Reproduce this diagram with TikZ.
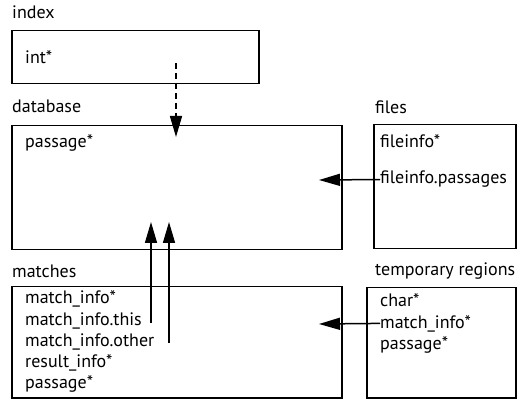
\documentclass[tikz,border=0pt]{standalone}
\usepackage{fontspec}
\setmainfont{PT Sans}
\usetikzlibrary{arrows.meta}

\tikzset{
  box/.style={draw, line width=1.5pt, anchor=north west, inner sep=0pt},
  title/.style={anchor=base west, inner sep=0pt, font=\fontsize{18}{21}\selectfont},
  entry/.style={anchor=base west, inner sep=0pt, font=\fontsize{18}{21}\selectfont},
  ptr/.style={line width=1.5pt, -{Triangle[length=21pt, width=12pt]}}
}

\begin{document}
\begin{tikzpicture}[x=1pt, y=-1pt]
        \useasboundingbox (0,0) rectangle (517,406);
        % --- Draw boxes ---
        \node[title] (indextitle) at (12,19) {index};
        \node[box, minimum width=247pt, minimum height=53pt] (indexbox) at (11,30) {};
        \node[entry] (int) at (25,64) {int*};

        \node[title] (dbtitle) at (12,113) {database};
        \node[box, minimum width=330pt, minimum height=124pt] (dbbox) at (11,125) {};
        \node[entry] (dbpassage) at (25,148) {passage*};

        \node[title] (filestitle) at (375,114) {files};
        \node[box, minimum width=142pt, minimum height=124pt] (filesbox) at (373,124) {};
        \node[entry] (fileinfo) at (380,148) {fileinfo*};
        \node[entry] (fpassages) at (380,184) {fileinfo.passages};

        \node[title] (matchtitle) at (12,277) {matches};
        \node[box, minimum width=330pt, minimum height=111pt] (matchbox) at (11,286) {};
        \node[entry] (minfo) at (25,304) {match\_info*};
        \node[entry] (mthis) at (25,325) {match\_info.this};
        \node[entry] (mother) at (25,346) {match\_info.other};
        \node[entry] (rinfo) at (25,367) {result\_info*};
        \node[entry] (mpassage) at (25,388) {passage*};

        \node[title] (temptitle) at (375,276) {temporary regions};
        \node[box, minimum width=149pt, minimum height=110pt] (tempbox) at (366,287) {};
        \node[entry] (tchar) at (380,306) {char*};
        \node[entry] (tminfo) at (380,328) {match\_info*};
        \node[entry] (tpassage) at (380,349) {passage*};

        % --- Draw pointers ---
        \coordinate (intfrom) at (176,63);
        \coordinate (inttip) at (176,137);
        \draw[ptr, dashed, dash pattern=on 6pt off 4pt] (intfrom) -- (inttip);

        \coordinate (filetip) at (319,180);
        \draw[ptr] (fpassages.west) -- (filetip);

        \coordinate (thisfrom) at (151,323);
        \coordinate (thistip) at (151,222);
        \draw[ptr] (thisfrom) -- (thistip);
        \coordinate (otherfrom) at (169,343);
        \coordinate (othertip) at (169,222);
        \draw[ptr] (otherfrom) -- (othertip);

        \coordinate (temptip) at (319,324);
        \draw[ptr] (tminfo.west) -- (temptip);
        % ---
\end{tikzpicture}
\end{document}
